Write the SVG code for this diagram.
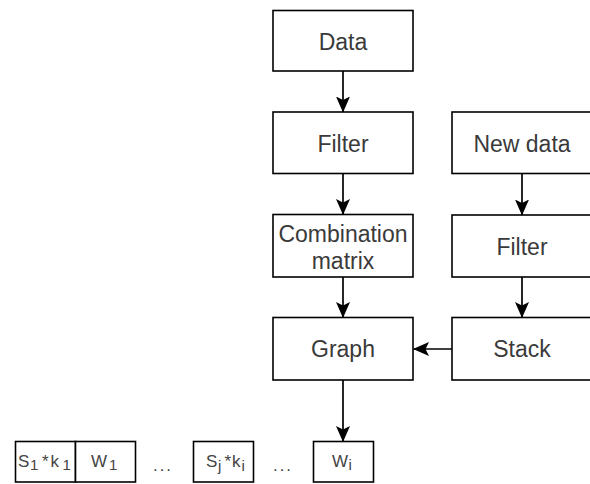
<svg xmlns="http://www.w3.org/2000/svg" width="590" height="484" viewBox="0 0 590 484">
  <style>
    .box { fill: #ffffff; stroke: #000000; stroke-width: 1.6; }
    .lbl { font-family: "Liberation Sans", Arial, sans-serif; font-size: 23px; fill: #3a3a3a; text-anchor: middle; }
    .sm { font-family: "Liberation Sans", Arial, sans-serif; font-size: 17px; fill: #444444; }
    .sub { font-size: 15px; }
    .edge { fill: none; stroke: #000000; stroke-width: 1.7; }
  </style>
  <defs>
    <marker id="arr" viewBox="0 0 16 14" refX="15.5" refY="7" markerWidth="16" markerHeight="14" orient="auto" markerUnits="userSpaceOnUse">
      <path d="M0,0 L16,7 L0,14 L3.5,7 Z" fill="#000000"/>
    </marker>
  </defs>
  <rect width="590" height="484" fill="#ffffff"/>

  <g id="connectors">
    <path class="edge" d="M343,71 L343,112" marker-end="url(#arr)"/>
    <path class="edge" d="M343,173.5 L343,214.5" marker-end="url(#arr)"/>
    <path class="edge" d="M343,277 L343,317.5" marker-end="url(#arr)"/>
    <path class="edge" d="M522,173.5 L522,215" marker-end="url(#arr)"/>
    <path class="edge" d="M522,277 L522,317.5" marker-end="url(#arr)"/>
    <path class="edge" d="M452,349 L413.5,349" marker-end="url(#arr)"/>
    <path class="edge" d="M343,380 L343,441.5" marker-end="url(#arr)"/>
  </g>

  <g id="data">
    <rect class="box" x="273" y="10.5" width="140" height="60.5"/>
    <text class="lbl" x="343" y="49.5">Data</text>
  </g>
  <g id="filter">
    <rect class="box" x="273" y="112" width="140" height="61.5"/>
    <text class="lbl" x="343" y="151.5">Filter</text>
  </g>
  <g id="combination-matrix">
    <rect class="box" x="273" y="214.5" width="140" height="62.5"/>
    <text class="lbl" x="343" y="241.5">Combination</text>
    <text class="lbl" x="343" y="268.5">matrix</text>
  </g>
  <g id="graph">
    <rect class="box" x="273" y="317.5" width="140" height="62.5"/>
    <text class="lbl" x="343" y="357">Graph</text>
  </g>
  <g id="new-data">
    <rect class="box" x="452" y="112" width="140" height="61.5"/>
    <text class="lbl" x="522" y="151.5">New data</text>
  </g>
  <g id="filter2">
    <rect class="box" x="452" y="215" width="140" height="62"/>
    <text class="lbl" x="522" y="255">Filter</text>
  </g>
  <g id="stack">
    <rect class="box" x="452" y="317.5" width="140" height="62.5"/>
    <text class="lbl" x="522" y="357">Stack</text>
  </g>

  <g id="s1k1">
    <rect class="box" x="15.5" y="441.5" width="60" height="40.5"/>
    <text class="sm"><tspan x="18" y="467">S</tspan><tspan class="sub" x="30" y="470">1</tspan><tspan x="42" y="467">*</tspan><tspan x="50.5" y="467">k</tspan><tspan class="sub" x="62.5" y="470">1</tspan></text>
  </g>
  <g id="w1">
    <rect class="box" x="75.5" y="441.5" width="60" height="40.5"/>
    <text class="sm"><tspan x="91" y="467">W</tspan><tspan class="sub" x="109" y="470">1</tspan></text>
  </g>
  <g id="dots1">
    <text class="sm" x="163" y="471" text-anchor="middle" letter-spacing="2">...</text>
  </g>
  <g id="sjki">
    <rect class="box" x="193.5" y="441.5" width="60" height="40.5"/>
    <text class="sm"><tspan x="206" y="467">S</tspan><tspan class="sub" x="218" y="471">j</tspan><tspan x="224.5" y="467">*</tspan><tspan x="232" y="467">k</tspan><tspan class="sub" x="241.5" y="471">i</tspan></text>
  </g>
  <g id="dots2">
    <text class="sm" x="283" y="471" text-anchor="middle" letter-spacing="2">...</text>
  </g>
  <g id="wi">
    <rect class="box" x="313.5" y="441.5" width="60" height="40.5"/>
    <text class="sm"><tspan x="332" y="467">W</tspan><tspan class="sub" x="348.5" y="470">i</tspan></text>
  </g>
</svg>
